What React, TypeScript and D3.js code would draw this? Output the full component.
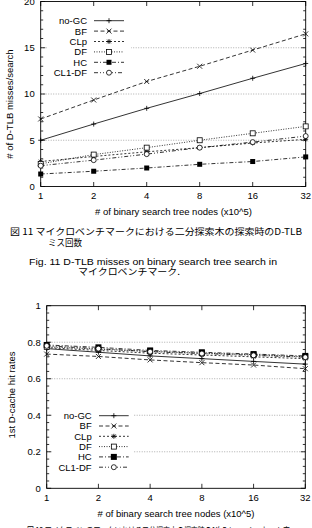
import React, { useRef, useEffect } from 'react';
import * as d3 from 'd3';

// x: binary search tree nodes (x10^5)
const nodes = [1, 2, 4, 8, 16, 32];
const seriesNames = ['no-GC', 'BF', 'CLp', 'DF', 'HC', 'CL1-DF'];

// D-TLB misses / search
const tlbNoGC = [5.0, 6.75, 8.45, 10.05, 11.7, 13.3];
const tlbBF = [7.3, 9.35, 11.35, 13.0, 14.75, 16.5];
const tlbCLp = [2.7, 3.25, 3.75, 4.2, 4.7, 5.1];
const tlbDF = [2.45, 3.45, 4.2, 5.0, 5.75, 6.5];
const tlbHC = [1.35, 1.65, 2.0, 2.4, 2.7, 3.2];
const tlbCL1DF = [2.25, 2.85, 3.5, 4.2, 4.8, 5.45];

// 1st D-cache hit rates
const hitNoGC = [0.765, 0.745, 0.725, 0.71, 0.695, 0.68];
const hitBF = [0.735, 0.722, 0.703, 0.688, 0.675, 0.655];
const hitCLp = [0.77, 0.755, 0.74, 0.73, 0.72, 0.71];
const hitDF = [0.775, 0.762, 0.75, 0.74, 0.732, 0.72];
const hitHC = [0.785, 0.772, 0.755, 0.745, 0.735, 0.725];
const hitCL1DF = [0.78, 0.765, 0.748, 0.738, 0.728, 0.718];

const tlbTicks = [0, 5, 10, 15, 20];
const hitTicks = [0, 0.2, 0.4, 0.6, 0.8, 1];

const FONT = '"Liberation Sans", Arial, sans-serif';
const JP = '"Noto Sans CJK JP", sans-serif';

// gnuplot-ish line types, one per series
const dashes = [null, '4,2.5', '2,2', '1,1.5', '4,2,1,2', '4,2,1,2,1,2'];
const markers = ['plus', 'cross', 'star', 'square', 'fsquare', 'circle'];

const drawMarker = (g, kind, x, y, s) => {
  const h = s / 2;
  const st = (sel) => sel.attr('stroke', '#000').attr('stroke-width', 0.8);
  if (kind === 'plus' || kind === 'star') {
    st(g.append('line').attr('x1', x - h).attr('x2', x + h).attr('y1', y).attr('y2', y));
    st(g.append('line').attr('x1', x).attr('x2', x).attr('y1', y - h).attr('y2', y + h));
  }
  if (kind === 'cross' || kind === 'star') {
    const k = kind === 'star' ? h * 0.75 : h;
    st(g.append('line').attr('x1', x - k).attr('x2', x + k).attr('y1', y - k).attr('y2', y + k));
    st(g.append('line').attr('x1', x - k).attr('x2', x + k).attr('y1', y + k).attr('y2', y - k));
  }
  if (kind === 'square') {
    st(g.append('rect').attr('x', x - h).attr('y', y - h).attr('width', s).attr('height', s).attr('fill', '#fff'));
  }
  if (kind === 'fsquare') {
    g.append('rect').attr('x', x - h).attr('y', y - h).attr('width', s).attr('height', s).attr('fill', '#000');
  }
  if (kind === 'circle') {
    st(g.append('circle').attr('cx', x).attr('cy', y).attr('r', h).attr('fill', '#fff'));
  }
};

const drawPanel = (svg, cfg) => {
  const g = svg.append('g');
  const x = d3.scaleLog().base(2).domain([1, 32]).range([cfg.left, cfg.right]);
  const y = d3.scaleLinear().domain(cfg.domain).range([cfg.bottom, cfg.top]);

  // grid
  cfg.grid.forEach((v) => {
    g.append('line')
      .attr('x1', cfg.left).attr('x2', cfg.right)
      .attr('y1', y(v)).attr('y2', y(v))
      .attr('stroke', '#999').attr('stroke-width', 0.8)
      .attr('stroke-dasharray', '1,1.5');
  });

  // legend background hides the grid
  g.append('rect')
    .attr('x', cfg.key.box[0]).attr('y', cfg.key.box[1])
    .attr('width', cfg.key.box[2]).attr('height', cfg.key.box[3])
    .attr('fill', '#fff');

  // minor + major y ticks, both sides
  const [d0, d1] = cfg.domain;
  const nMinor = Math.round((d1 - d0) / cfg.minor);
  for (let i = 0; i <= nMinor; i++) {
    const v = d0 + i * cfg.minor;
    const major = cfg.ticks.some((t) => Math.abs(t - v) < 1e-9);
    const len = major ? 4.5 : 2.5;
    [[cfg.left, len], [cfg.right, -len]].forEach(([x0, l]) => {
      g.append('line').attr('x1', x0).attr('x2', x0 + l)
        .attr('y1', y(v)).attr('y2', y(v))
        .attr('stroke', '#000').attr('stroke-width', 0.8);
    });
  }
  cfg.ticks.forEach((v) => {
    g.append('text')
      .attr('x', cfg.left - 6).attr('y', y(v) + 3.4)
      .attr('text-anchor', 'end')
      .attr('font-family', FONT).attr('font-size', 9.5)
      .text(cfg.fmt(v));
  });

  // x ticks, bottom and top
  nodes.forEach((n) => {
    [[cfg.bottom, -4.5], [cfg.top, 4.5]].forEach(([y0, l]) => {
      g.append('line').attr('x1', x(n)).attr('x2', x(n))
        .attr('y1', y0).attr('y2', y0 + l)
        .attr('stroke', '#000').attr('stroke-width', 0.8);
    });
    g.append('text')
      .attr('x', x(n)).attr('y', cfg.bottom + 12.5)
      .attr('text-anchor', 'middle')
      .attr('font-family', FONT).attr('font-size', 9.5)
      .text(n);
  });

  g.append('rect')
    .attr('x', cfg.left).attr('y', cfg.top)
    .attr('width', cfg.right - cfg.left).attr('height', cfg.bottom - cfg.top)
    .attr('fill', 'none').attr('stroke', '#000').attr('stroke-width', 0.9);

  // axis titles
  g.append('text')
    .attr('transform', `translate(${cfg.yLabelX},${cfg.yLabelY}) rotate(-90)`)
    .attr('text-anchor', 'middle').attr('dy', '0.35em')
    .attr('font-family', FONT).attr('font-size', 9.5)
    .text(cfg.yLabel);
  g.append('text')
    .attr('x', cfg.xLabelX).attr('y', cfg.bottom + 28.5)
    .attr('text-anchor', 'middle')
    .attr('font-family', FONT).attr('font-size', 9.5)
    .text('# of binary search tree nodes (x10^5)');

  const line = d3.line().x((d) => x(d[0])).y((d) => y(d[1]));

  cfg.series.forEach((vals, i) => {
    const pts = nodes.map((n, j) => [n, vals[j]]);
    g.append('path')
      .attr('d', line(pts))
      .attr('fill', 'none').attr('stroke', '#000').attr('stroke-width', 0.8)
      .attr('stroke-dasharray', dashes[i]);
    pts.forEach((p) => drawMarker(g, markers[i], x(p[0]), y(p[1]), markers[i] === 'fsquare' ? cfg.fs : cfg.ms));

    // key entry
    const ky = cfg.key.y0 + i * cfg.key.dy;
    g.append('text')
      .attr('x', cfg.key.textRight).attr('y', ky + 3.4)
      .attr('text-anchor', 'end')
      .attr('font-family', FONT).attr('font-size', 9.5)
      .text(seriesNames[i]);
    g.append('line')
      .attr('x1', cfg.key.s0).attr('x2', cfg.key.s1)
      .attr('y1', ky).attr('y2', ky)
      .attr('stroke', '#000').attr('stroke-width', 0.8)
      .attr('stroke-dasharray', dashes[i]);
    drawMarker(g, markers[i], (cfg.key.s0 + cfg.key.s1) / 2, ky, markers[i] === 'fsquare' ? cfg.fs : cfg.ms);
  });
};

const App = () => {
  const ref = useRef(null);

  useEffect(() => {
    const svg = d3.select(ref.current);
    svg.selectAll('*').remove();
    svg.append('rect').attr('width', 312).attr('height', 528).attr('fill', '#fff');

    drawPanel(svg, {
      left: 40.7, right: 305.7, top: 1.5, bottom: 186.5,
      domain: [0, 20], ticks: tlbTicks, minor: 1, grid: [5, 10, 15],
      fmt: (v) => String(v),
      series: [tlbNoGC, tlbBF, tlbCLp, tlbDF, tlbHC, tlbCL1DF],
      ms: 5, fs: 5,
      yLabel: '# of D-TLB misses/search', yLabelX: 10, yLabelY: 104,
      xLabelX: 173.5,
      key: { textRight: 87, s0: 94, s1: 124, y0: 20.7, dy: 10.4, box: [48, 14, 83, 66] },
    });

    drawPanel(svg, {
      left: 46.7, right: 305.3, top: 305.7, bottom: 488.3,
      domain: [0, 1], ticks: hitTicks, minor: 0.04, grid: [0.2, 0.4, 0.6, 0.8],
      fmt: (v) => (v === 0 || v === 1 ? String(v) : v.toFixed(1)),
      series: [hitNoGC, hitBF, hitCLp, hitDF, hitHC, hitCL1DF],
      ms: 5, fs: 6,
      yLabel: '1st D-cache hit rates', yLabelX: 11.7, yLabelY: 395,
      xLabelX: 176,
      key: { textRight: 91.7, s0: 99, s1: 128.7, y0: 415.7, dy: 10.3, box: [52, 409, 81, 64] },
    });

    // captions
    const cap = (txt, x0, yb, w, font, size) => {
      const t = svg.append('text')
        .attr('x', x0).attr('y', yb)
        .attr('font-family', font).attr('font-size', size)
        .text(txt);
      if (w) t.attr('textLength', w).attr('lengthAdjust', 'spacingAndGlyphs');
    };
    cap('図 11 マイクロベンチマークにおける二分探索木の探索時のD-TLB', 10, 235, 292, JP, 8.8);
    cap('ミス回数', 48, 245.5, 34, JP, 8.8);
    cap('Fig. 11 D-TLB misses on binary search tree search in', 29, 264.5, 248, FONT, 8.8);
    cap('マイクロベンチマーク.', 78, 275, 102, JP, 8.8);
    cap('図 12 マイクロベンチマークにおける二分探索木の探索時の1次Dキャッシュヒット率', 27, 534, 263, JP, 9);
  }, []);

  return (
    <svg ref={ref} width={312} height={528}
      style={{ position: 'absolute', left: 0, top: 0, display: 'block' }} />
  );
};

export default App;
